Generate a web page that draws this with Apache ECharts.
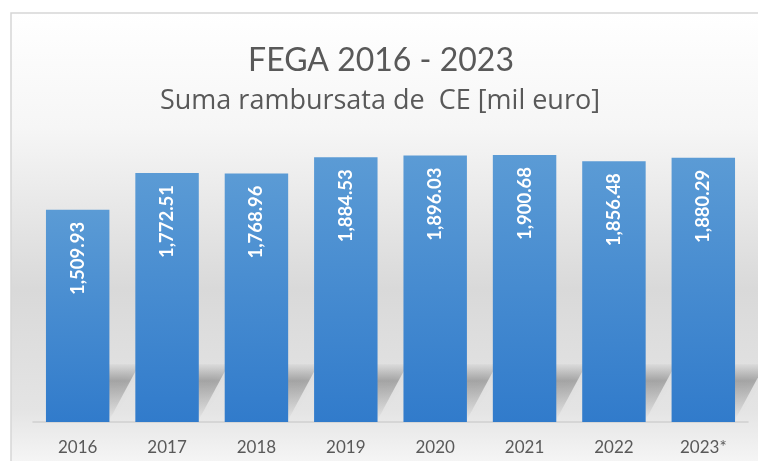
<!DOCTYPE html>
<html>
<head>
<meta charset="utf-8">
<script src="https://cdn.jsdelivr.net/npm/echarts@6/dist/echarts.min.js"></script>
<style>
  html, body { margin: 0; padding: 0; background: #ffffff; }
  #chart { width: 758px; height: 461px; }
</style>
</head>
<body>
<div id="chart"></div>
<script>
const years = ["2016", "2017", "2018", "2019", "2020", "2021", "2022", "2023*"];
const amounts = [1509.93, 1772.51, 1768.96, 1884.53, 1896.03, 1900.68, 1856.48, 1880.29];
const titleText = "FEGA 2016 - 2023";
const subtitleText = "Suma rambursata de  CE [mil euro]";

const chart = echarts.init(document.getElementById("chart"));

const fmt = (v) =>
  v.toLocaleString("en-US", { minimumFractionDigits: 2, maximumFractionDigits: 2 });

// soft slanted shadow behind each bar, near the base
const renderShadow = (params, api) => {
  const base = api.coord([api.value(0), 0]);
  const band = api.size([1, 0])[0];
  const w = band * 0.71;
  const left = base[0] - w / 2;
  const right = base[0] + w / 2;
  const dx = 30;
  const dy = 58;
  return {
    type: "polygon",
    shape: {
      points: [
        [left, base[1] - 2],
        [right, base[1] - 2],
        [right + dx, base[1] - dy],
        [left + dx, base[1] - dy],
      ],
    },
    style: {
      fill: new echarts.graphic.LinearGradient(0, 0, 0, 1, [
        { offset: 0, color: "rgba(0,0,0,0.02)" },
        { offset: 0.3, color: "rgba(0,0,0,0.25)" },
        { offset: 1, color: "rgba(0,0,0,0.0)" },
      ]),
      shadowBlur: 8,
      shadowColor: "rgba(0,0,0,0.12)",
    },
  };
};

const option = {
  backgroundColor: "#ffffff",
  animation: false,
  graphic: [
    {
      type: "rect",
      z: -10,
      shape: { x: 11, y: 13, width: 760, height: 460 },
      style: {
        fill: new echarts.graphic.LinearGradient(0, 0, 0, 1, [
          { offset: 0, color: "#ffffff" },
          { offset: 0.25, color: "#f6f6f6" },
          { offset: 0.6, color: "#d9d9d9" },
          { offset: 0.86, color: "#e4e4e4" },
          { offset: 1, color: "#f9f9f9" },
        ]),
        stroke: "#d6d6d6",
        lineWidth: 1.5,
      },
    },
  ],
  title: [
    {
      text: titleText,
      left: 376,
      textAlign: "center",
      top: 40,
      textStyle: {
        fontFamily: "Lato",
        fontWeight: "normal",
        fontSize: 32,
        color: "#595959",
      },
    },
    {
      text: subtitleText,
      left: 375,
      textAlign: "center",
      top: 83,
      textStyle: {
        fontFamily: "Open Sans",
        fontWeight: "normal",
        fontSize: 27,
        color: "#595959",
      },
    },
  ],
  grid: {
    left: 33,
    right: 10,
    top: 141,
    bottom: 39,
    containLabel: false,
  },
  xAxis: {
    type: "category",
    data: years,
    axisLine: { show: true, lineStyle: { color: "#d0d0d0", width: 1.5 } },
    axisTick: { show: false },
    axisLabel: {
      margin: 17,
      fontFamily: "Lato",
      fontSize: 17,
      color: "#595959",
    },
  },
  yAxis: {
    type: "value",
    min: 0,
    max: 2000,
    show: false,
  },
  series: [
    {
      type: "custom",
      renderItem: renderShadow,
      data: amounts.map((v, i) => [i, v]),
      encode: { x: 0, y: 1 },
      z: 1,
      silent: true,
    },
    {
      type: "bar",
      data: amounts,
      barWidth: "71%",
      z: 2,
      itemStyle: {
        color: new echarts.graphic.LinearGradient(0, 0, 0, 1, [
          { offset: 0, color: "#5b9bd5" },
          { offset: 1, color: "#317bcb" },
        ]),
      },
      label: {
        show: true,
        position: "insideTop",
        rotate: 90,
        align: "right",
        verticalAlign: "middle",
        distance: 12,
        formatter: (p) => fmt(p.value),
        fontFamily: "Lato",
        fontWeight: "bold",
        fontSize: 18.5,
        color: "#ffffff",
      },
    },
  ],
};

chart.setOption(option);
</script>
</body>
</html>
